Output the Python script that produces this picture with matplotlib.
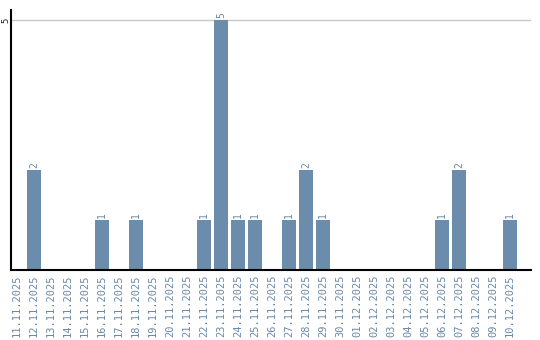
import matplotlib
matplotlib.use('agg')
import matplotlib.pyplot as plt

# 数据
dates = ['11.11.2025', '12.11.2025', '13.11.2025', '14.11.2025', '15.11.2025',
         '16.11.2025', '17.11.2025', '18.11.2025', '19.11.2025', '20.11.2025',
         '21.11.2025', '22.11.2025', '23.11.2025', '24.11.2025', '25.11.2025',
         '26.11.2025', '27.11.2025', '28.11.2025', '29.11.2025', '30.11.2025',
         '01.12.2025', '02.12.2025', '03.12.2025', '04.12.2025', '05.12.2025',
         '06.12.2025', '07.12.2025', '08.12.2025', '09.12.2025', '10.12.2025']
counts = [0, 2, 0, 0, 0, 1, 0, 1, 0, 0,
          0, 1, 5, 1, 1, 0, 1, 2, 1, 0,
          0, 0, 0, 0, 0, 1, 2, 0, 0, 1]

bar_color = '#6b8cab'
label_color = '#6a88a8'

fig = plt.figure(figsize=(5.4, 3.4), dpi=100)
ax = fig.add_axes([11 / 540, 70 / 340, 520 / 540, 260 / 340])

x = list(range(len(dates)))
ax.bar(x, counts, width=14 / 17, color=bar_color, zorder=2)

# 柱顶数值
for i, v in zip(x, counts):
    if v > 0:
        ax.text(i, v + 0.04, str(v), rotation=90, ha='center', va='bottom',
                fontsize=7, family='DejaVu Sans Mono', color=label_color)

ax.set_xlim(-0.353, 30.24)
ax.set_ylim(0, 5.2)

# 网格线和坐标轴
ax.axhline(5, color='#c8c8c8', linewidth=1, zorder=1)
ax.set_yticks([5])
ax.set_yticklabels([])
fig.text(5.5 / 540, 1 - 20 / 340, '5', rotation=90, ha='center', va='center',
         fontsize=6.5, family='DejaVu Sans Mono', color='#222222')
ax.set_xticks(x)
ax.set_xticklabels(dates, rotation=90, fontsize=7.5, family='DejaVu Sans Mono',
                   color=label_color)
ax.tick_params(axis='both', length=0, pad=3)

ax.spines['top'].set_visible(False)
ax.spines['right'].set_visible(False)
ax.spines['left'].set_linewidth(1.5)
ax.spines['bottom'].set_linewidth(1.5)

plt.savefig('out.png', dpi=100)
plt.close()
